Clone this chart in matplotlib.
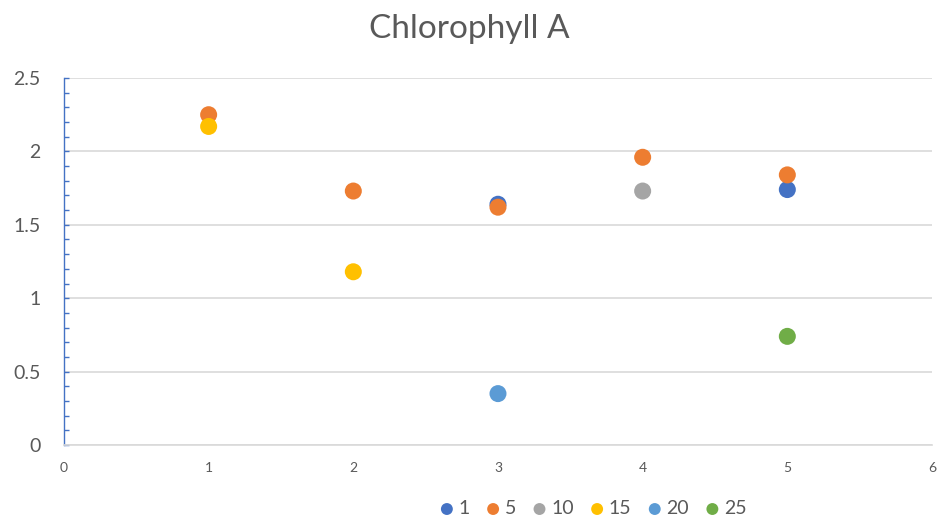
import numpy as np
import matplotlib
matplotlib.use("Agg")
import matplotlib.pyplot as plt
from matplotlib.ticker import MultipleLocator

plt.rcParams['font.family'] = ['Lato', 'DejaVu Sans']

title = "Chlorophyll A"
series_names = ["1", "5", "10", "15", "20", "25"]
series_colors = ["#4472C4", "#ED7D31", "#A5A5A5", "#FFC000", "#5B9BD5", "#70AD47"]

x_values = [1, 2, 3, 4, 5]
nan = np.nan
s1 = [nan, nan, 1.64, nan, 1.74]
s5 = [2.25, 1.73, 1.62, 1.96, 1.84]
s10 = [nan, nan, nan, 1.73, nan]
s15 = [2.17, 1.18, nan, nan, nan]
s20 = [nan, nan, 0.35, nan, nan]
s25 = [nan, nan, nan, nan, 0.74]
series_values = [s1, s5, s10, s15, s20, s25]

fig = plt.figure(figsize=(9.38, 5.19), dpi=100)
ax = fig.add_axes([0.0682, 0.1426, 0.9254, 0.7071])

for name, vals, col in zip(series_names, series_values, series_colors):
    ax.scatter(x_values, vals, s=150, color=col, edgecolors='none', label=name, zorder=3)

ax.set_xlim(0, 6)
ax.set_ylim(0, 2.5)
ax.yaxis.set_major_locator(MultipleLocator(0.5))
ax.yaxis.set_minor_locator(MultipleLocator(0.1))
ax.xaxis.set_major_locator(MultipleLocator(1))

ax.grid(axis='y', which='major', color='#D9D9D9', linewidth=1.2, zorder=0)
for side in ['top', 'right']:
    ax.spines[side].set_visible(False)
ax.spines['bottom'].set_color('#D9D9D9')
ax.spines['bottom'].set_linewidth(1.2)
ax.spines['left'].set_color('#4472C4')
ax.spines['left'].set_linewidth(1.0)

ax.tick_params(axis='y', which='both', direction='in', color='#4472C4', length=3.5, width=1.0,
               labelsize=14, labelcolor='#595959', pad=17)
ax.tick_params(axis='x', which='both', length=0, labelsize=10, labelcolor='#595959', pad=12)
ax.set_yticks([0, 0.5, 1, 1.5, 2, 2.5])
ax.set_yticklabels(["0", "0.5", "1", "1.5", "2", "2.5"])

fig.text(0.5, 0.945, title, ha='center', va='center', fontsize=24, color='#595959')

fig.legend(loc='center', bbox_to_anchor=(0.63, 0.02), ncol=6, frameon=False,
           fontsize=14, labelcolor='#595959', handletextpad=0.0, columnspacing=0.6,
           markerscale=0.7, handlelength=1.2)

fig.savefig("out.png", dpi=100)
